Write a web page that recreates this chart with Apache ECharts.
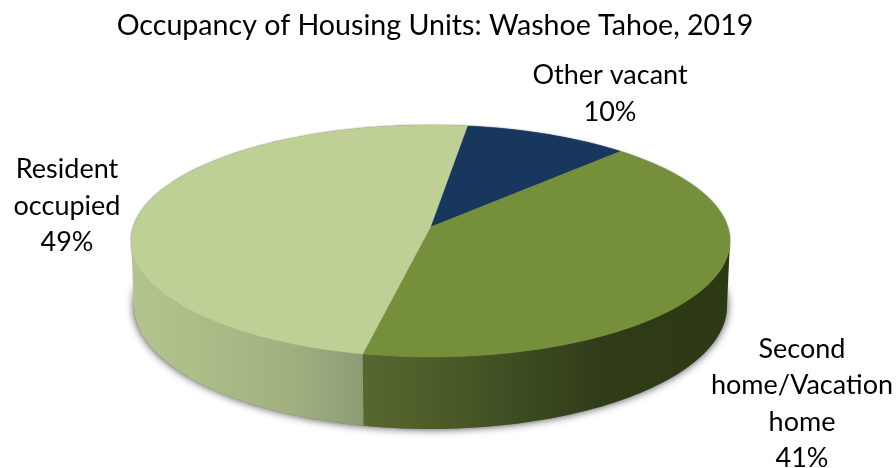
<!DOCTYPE html>
<html><head><meta charset="utf-8">
<style>html,body{margin:0;padding:0;background:#fff}#c{width:896px;height:468px}</style>
<script src="https://cdn.jsdelivr.net/npm/echarts@6/dist/echarts.min.js"></script>
</head><body><div id="c"></div>
<script>
const titleText = 'Occupancy of Housing Units: Washoe Tahoe, 2019';
const categories = ['Other vacant', 'Second\nhome/Vacation\nhome', 'Resident\noccupied'];
const values = [10, 41, 49];
const topColors = ['#17375e', '#768f3b', '#bed096'];

const FONT = 'Lato';
const START = 8;
const cx = 430.5, apexY = 227, a = 297.3, b = 86.9, k = -0.1207;
const baseCy = 306, topCy = 241, bx = 0.99, by = 1.06;
const FRONT = [97, 263];
const labelPos = [[610, 94], [802, 404], [67, 206]];

const total = values.reduce((s, v) => s + v, 0);
const rad = d => d * Math.PI / 180;
// Perspective view of the pie's circular top face
function P(t) {
  const u = Math.sin(rad(t)), v = -Math.cos(rad(t)), w = 1 + k * v;
  return [cx + a * u / w, apexY + (b * v - k * v * apexY) / w];
}
function bot(p) { return [cx + (p[0] - cx) * bx, baseCy + (p[1] - topCy) * by]; }
function arc(t0, t1, f) {
  const n = Math.max(2, Math.ceil(Math.abs(t1 - t0) / 1.5)), out = [];
  for (let i = 0; i <= n; i++) out.push(f(t0 + (t1 - t0) * i / n));
  return out;
}
const grad = stops => new echarts.graphic.LinearGradient(130, 0, 730, 0,
  stops.map(s => ({ offset: (s[0] - 130) / 600, color: s[1] })), true);
const wallFill = [
  null,
  grad([[130, '#5a6b30'], [363, '#566731'], [450, '#4a5a26'], [540, '#3a4820'], [600, '#303c18'], [730, '#2d3815']]),
  grad([[130, '#b3c48f'], [200, '#adbd88'], [270, '#a4b481'], [320, '#9aa97b'], [363, '#8d9b73'], [730, '#8d9b73']])
];

function renderItem(params, api) {
  const i = params.dataIndex;
  const before = values.slice(0, i).reduce((s, v) => s + v, 0);
  const t0 = START + before / total * 360;
  const t1 = t0 + api.value(0) / total * 360;
  const children = [];
  if (i === 0) {
    children.push({ type: 'polygon', shape: { points: arc(0, 360, t => bot(P(t))) }, silent: true,
      style: { fill: '#777', shadowBlur: 8, shadowColor: 'rgba(0,0,0,0.75)' } });
    children.push({ type: 'polygon', shape: { points: arc(0, 360, P) }, silent: true,
      style: { fill: '#888', shadowBlur: 2, shadowColor: 'rgba(0,0,0,0.5)' } });
  }
  const w0 = Math.max(t0, FRONT[0]), w1 = Math.min(t1, FRONT[1]);
  if (w1 > w0 && wallFill[i]) {
    const topArc = arc(w0, w1, P);
    const pts = topArc.concat(topArc.map(bot).reverse());
    children.push({ type: 'polygon', shape: { points: pts }, style: { fill: wallFill[i] } });
  }
  children.push({ type: 'polygon', z2: 5,
    shape: { points: [[cx, apexY]].concat(arc(t0, t1, P)) },
    style: { fill: topColors[i], stroke: topColors[i], lineWidth: 0.4 } });
  const pct = Math.round(api.value(0) / total * 100) + '%';
  children.push({ type: 'text', z2: 10, x: labelPos[i][0], y: labelPos[i][1],
    style: { text: categories[i] + '\n' + pct, fill: '#000', font: '27px ' + FONT,
      align: 'center', verticalAlign: 'middle', lineHeight: 36.5 } });
  return { type: 'group', children };
}

const chart = echarts.init(document.getElementById('c'), null, { renderer: 'canvas' });
chart.setOption({
  animation: false,
  backgroundColor: '#fff',
  title: { text: titleText, left: 430, top: 6, textAlign: 'center',
    textStyle: { fontFamily: FONT, fontSize: 28.6, fontWeight: 'normal', color: '#000' } },
  series: [{
    type: 'custom', coordinateSystem: 'none', silent: true,
    renderItem, data: values.map(v => [v])
  }]
});
</script></body></html>
